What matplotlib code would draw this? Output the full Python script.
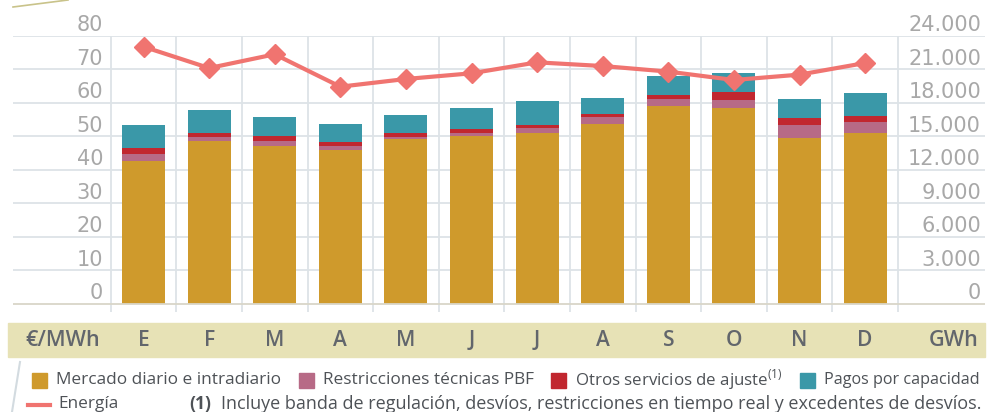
import numpy as np
import matplotlib
matplotlib.use('Agg')
import matplotlib.pyplot as plt
from matplotlib.patches import Rectangle
from matplotlib.lines import Line2D
import matplotlib.transforms as mtransforms

# datos (lectura del grafico)
meses = ['E', 'F', 'M', 'A', 'M', 'J', 'J', 'A', 'S', 'O', 'N', 'D']
mercado = [42.7, 48.7, 47.2, 46.0, 49.3, 50.1, 51.0, 53.7, 59.1, 58.5, 49.6, 51.0]
restricciones = [2.2, 1.2, 1.5, 1.2, 0.6, 0.9, 1.5, 2.1, 2.1, 2.4, 3.8, 3.3]
otros = [1.8, 1.1, 1.4, 1.2, 1.1, 1.2, 0.9, 0.9, 1.2, 2.4, 2.1, 1.8]
pagos = [6.7, 6.9, 5.7, 5.3, 5.4, 6.3, 7.2, 4.8, 5.7, 5.7, 5.7, 6.9]
energia = [23040, 21130, 22360, 19460, 20150, 20660, 21640, 21310, 20810, 20060, 20540, 21580]

ticks_izq = [0, 10, 20, 30, 40, 50, 60, 70, 80]
ticks_der = [0, 3000, 6000, 9000, 12000, 15000, 18000, 21000, 24000]

c_mercado = '#CF9A2C'
c_restr = '#B76A86'
c_otros = '#C1272F'
c_pagos = '#3A98A8'
c_energia = '#F07470'
c_grid = '#DDE3E7'
c_tick = '#A8A8A8'
c_band = '#E7E2B6'
c_bandtxt = '#62666C'
c_leg = '#4E5257'

plt.rcParams['font.family'] = ['Open Sans', 'DejaVu Sans']
plt.rcParams['mathtext.fontset'] = 'custom'
plt.rcParams['mathtext.rm'] = 'Open Sans'

W, H = 989, 412
fig = plt.figure(figsize=(W/100, H/100), dpi=100)

def fx(px):
    return px/W

def fy(py):
    return 1 - py/H

# ejes: de x=13 a 985 px, y de 36 a 312 px
ax = fig.add_axes([fx(13), fy(312), fx(985) - fx(13), fy(36) - fy(312)])
x0, dx = 143.5, 65.6
ax.set_xlim((13 - x0)/dx, (985 - x0)/dx)
ymin = -2.4
ax.set_ylim(ymin, 80)
ax.axis('off')

n = len(meses)
x = np.arange(n)

for v in ticks_izq[1:]:
    ax.axhline(v, color=c_grid, lw=1.3, zorder=0)
for xv in np.arange(n + 1) - 0.5:
    ax.plot([xv, xv], [ymin, 80], color=c_grid, lw=1.3, zorder=0)
ax.axhline(0, color='#D9D6C8', lw=1.3, zorder=3)

w = 0.655
b = np.zeros(n)
for vals, col in [(mercado, c_mercado), (restricciones, c_restr), (otros, c_otros), (pagos, c_pagos)]:
    ax.bar(x, vals, w, bottom=b, color=col, zorder=2, linewidth=0)
    b += np.array(vals)

# etiquetas eje izquierdo
for v in ticks_izq:
    ax.text((103 - x0)/dx, v + 3.2, str(v), ha='right', va='center',
            fontsize=15, color=c_tick, family='DejaVu Sans')

ax2 = ax.twinx()
ax2.set_ylim(ymin*300, 24000)
ax2.set_xlim(ax.get_xlim())
ax2.axis('off')
ax2.plot(x, energia, color=c_energia, lw=3, marker='D', markersize=10, zorder=4)
for v in ticks_der:
    ax2.text((981 - x0)/dx, v + 3.2*300, f'{v:,}'.replace(',', '.'), ha='right', va='center',
             fontsize=15, color=c_tick, family='DejaVu Sans')

# banda inferior
fig.patches.append(Rectangle((fx(8), fy(357)), fx(985) - fx(8), fy(323) - fy(357),
                             transform=fig.transFigure, color=c_band, zorder=0))
trans = mtransforms.blended_transform_factory(ax.transData, fig.transFigure)
for i, m in enumerate(meses):
    fig.text(i, fy(340), m, transform=trans, ha='center', va='center',
             fontsize=15, fontweight='semibold', color=c_bandtxt)
fig.text(fx(25), fy(340), '€/MWh', ha='left', va='center', fontsize=15.5,
         fontweight='semibold', color=c_bandtxt)
fig.text(fx(979), fy(340), 'GWh', ha='right', va='center', fontsize=15.5,
         fontweight='semibold', color=c_bandtxt)

# lineas decorativas
fig.lines.append(Line2D([fx(13), fx(68)], [fy(7), fy(0)], transform=fig.transFigure,
                        color='#C9C38A', lw=1.2))
fig.lines.append(Line2D([fx(20), fx(12)], [fy(362), fy(412)], transform=fig.transFigure,
                        color='#D3DBE0', lw=1.5))

# leyenda
ly1 = 380
items = [(32, c_mercado, 'Mercado diario e intradiario', 12.4),
         (299, c_restr, 'Restricciones técnicas PBF', 12.4),
         (551, c_otros, 'Otros servicios de ajuste$^{(1)}$', 12.2),
         (800, c_pagos, 'Pagos por capacidad', 11.6)]
for px, col, lab, fs in items:
    fig.patches.append(Rectangle((fx(px), fy(ly1 + 7.5)), fx(15), 15/H,
                                 transform=fig.transFigure, color=col))
    fig.text(fx(px + 24), fy(ly1), lab, ha='left', va='center', fontsize=fs, color=c_leg)

ly2 = 404
fig.lines.append(Line2D([fx(28), fx(50)], [fy(ly2 + 1), fy(ly2 + 1)], transform=fig.transFigure,
                        color=c_energia, lw=3))
fig.text(fx(58), fy(ly2), 'Energía', ha='left', va='center', fontsize=12.4, color=c_leg)
fig.text(fx(189), fy(ly2), '(1)', ha='left', va='center', fontsize=12.6,
         fontweight='bold', color=c_leg)
fig.text(fx(221), fy(ly2), 'Incluye banda de regulación, desvíos, restricciones en tiempo real y excedentes de desvíos.',
         ha='left', va='center', fontsize=13.0, color=c_leg)

fig.savefig('out.png', dpi=100)
